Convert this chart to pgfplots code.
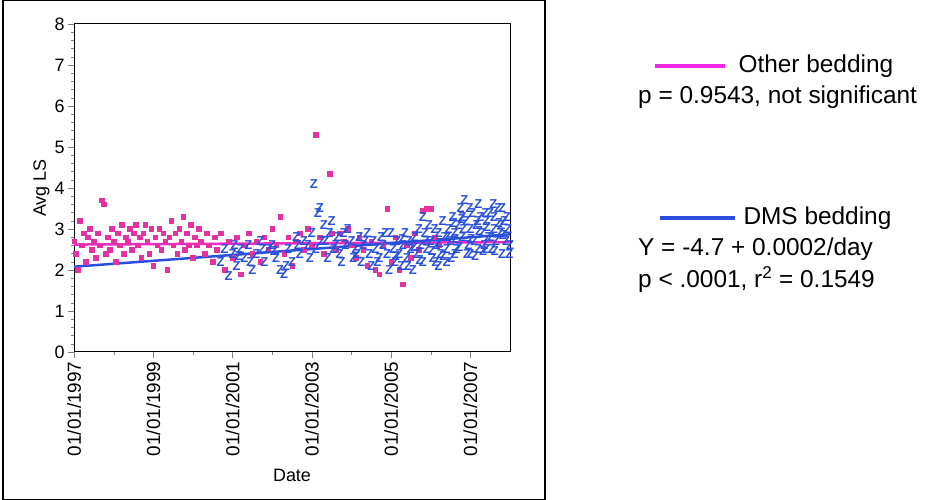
\documentclass[border=0pt]{standalone}
\usepackage{pgfplots}
\pgfplotsset{compat=1.18}
\usepackage{fontspec}
\setmainfont{Liberation Sans}
\setsansfont{Liberation Sans}
\definecolor{pk}{RGB}{230,50,160}
\definecolor{bl}{RGB}{40,80,220}
\definecolor{mag}{RGB}{240,40,230}
\begin{document}
\begin{tikzpicture}[x=1bp,y=1bp]
\useasboundingbox (0,0) rectangle (947,500);
\draw[line width=1.2bp] (3,0.6) rectangle (545,499.4);
\begin{axis}[at={(74bp,148bp)},anchor=south west,scale only axis,width=436bp,height=328bp,
 xmin=1997,xmax=2008,ymin=0,ymax=8,
 xtick={1997,1999,2001,2003,2005,2007},
 xticklabels={01/01/1997,01/01/1999,01/01/2001,01/01/2003,01/01/2005,01/01/2007},
 x tick label style={rotate=90,anchor=east,font=\fontsize{19}{19}\selectfont},
 ytick={0,...,8},minor x tick num=1,minor y tick num=4,
 y tick label style={font=\fontsize{18}{18}\selectfont},
 /pgf/number format/assume math mode=true,
 tick align=outside,xtick pos=left,ytick pos=left,
 major tick length=6bp,minor tick length=3bp,
 xlabel={Date},ylabel={Avg LS},
 xlabel style={font=\fontsize{18}{18}\selectfont,yshift=-6bp},
 ylabel style={font=\fontsize{18}{18}\selectfont,yshift=-2bp},
 axis line style={line width=1bp},clip=false]
\addplot[only marks,mark=square*,mark size=2.3bp,color=pk] coordinates {
(1997.0,2.7)(1997.05,2.4)(1997.1,2.0)(1997.15,3.2)(1997.2,2.6)(1997.25,2.9)(1997.3,2.2)(1997.35,2.8)(1997.4,3.0)(1997.45,2.5)(1997.5,2.7)(1997.55,2.3)(1997.6,2.9)(1997.65,2.6)(1997.7,3.7)(1997.75,3.6)(1997.8,2.4)(1997.85,2.8)(1997.9,2.5)(1997.95,3.0)(1998.0,2.7)(1998.05,2.2)(1998.1,2.9)(1998.15,2.6)(1998.2,3.1)(1998.25,2.4)(1998.3,2.8)(1998.35,2.7)(1998.4,3.0)(1998.45,2.5)(1998.5,2.9)(1998.55,3.1)(1998.6,2.6)(1998.65,2.8)(1998.7,2.3)(1998.75,2.9)(1998.8,3.1)(1998.85,2.7)(1998.9,2.4)(1998.95,3.0)(1999.0,2.1)(1999.05,2.8)(1999.1,2.6)(1999.15,3.0)(1999.2,2.5)(1999.25,2.9)(1999.3,2.7)(1999.35,2.0)(1999.4,2.8)(1999.45,3.2)(1999.5,2.6)(1999.55,2.9)(1999.6,2.4)(1999.65,3.0)(1999.7,2.7)(1999.75,3.3)(1999.8,2.5)(1999.85,2.9)(1999.9,2.6)(1999.95,3.1)(2000.0,2.3)(2000.05,2.8)(2000.1,2.6)(2000.15,3.0)(2000.2,2.7)(2000.3,2.4)(2000.35,2.9)(2000.4,2.6)(2000.5,2.2)(2000.55,2.8)(2000.6,2.5)(2000.7,2.9)(2000.8,2.0)(2000.9,2.7)(2001.0,2.3)(2001.1,2.8)(2001.2,1.9)(2001.3,2.6)(2001.4,2.9)(2001.5,2.4)(2001.6,2.7)(2001.7,2.2)(2001.8,2.8)(2001.9,2.5)(2002.0,3.0)(2002.1,2.6)(2002.2,3.3)(2002.3,2.4)(2002.4,2.8)(2002.5,2.1)(2002.6,2.7)(2002.7,2.9)(2002.8,2.5)(2002.9,3.0)(2003.0,2.6)(2003.1,5.3)(2003.2,2.8)(2003.3,2.4)(2003.45,4.35)(2003.5,2.9)(2003.6,2.5)(2003.7,2.9)(2003.8,2.7)(2003.9,3.0)(2004.0,2.6)(2004.1,2.3)(2004.2,2.8)(2004.3,2.5)(2004.4,2.1)(2004.5,2.7)(2004.6,2.0)(2004.7,1.9)(2004.8,2.6)(2004.9,3.5)(2005.0,2.2)(2005.1,2.8)(2005.2,2.0)(2005.3,1.65)(2005.4,2.6)(2005.5,2.3)(2005.6,2.9)(2005.7,2.5)(2005.8,3.45)(2005.9,3.5)(2006.0,3.5)(2006.1,2.8)(2006.2,2.6)
};
\addplot[only marks,mark=text,text mark={\textcolor{bl}{\fontsize{13}{13}\selectfont\bfseries Z}},color=bl] coordinates {
(2000.7,2.2)(2000.8,2.5)(2000.9,1.85)(2001.0,2.4)(2001.05,2.6)(2001.1,2.1)(2001.2,2.5)(2001.3,2.3)(2001.4,2.6)(2001.5,2.0)(2001.6,2.4)(2001.7,2.7)(2001.8,2.2)(2001.9,2.5)(2002.0,2.6)(2002.1,2.3)(2002.2,2.0)(2002.3,1.9)(2002.4,2.5)(2002.5,2.2)(2002.6,2.8)(2002.7,2.4)(2002.8,2.7)(2002.9,2.6)(2003.0,2.9)(2003.05,4.1)(2003.1,2.5)(2003.15,3.4)(2003.2,3.5)(2003.3,3.1)(2003.35,2.7)(2003.4,2.3)(2003.45,2.9)(2003.5,3.2)(2003.6,2.6)(2003.65,2.8)(2003.7,2.4)(2003.8,2.9)(2003.85,2.6)(2003.9,3.0)(2004.0,2.7)(2004.05,2.3)(2004.1,2.5)(2004.2,2.8)(2004.25,2.2)(2004.3,2.6)(2004.4,2.9)(2004.45,2.4)(2004.5,2.1)(2004.55,2.7)(2004.6,2.5)(2004.7,2.3)(2004.75,2.8)(2004.8,2.6)(2004.9,2.4)(2004.95,2.0)(2005.0,2.9)(2005.05,2.5)(2005.1,2.2)(2005.15,2.7)(2005.2,2.4)(2005.25,2.1)(2005.3,2.6)(2005.35,2.9)(2005.4,2.3)(2005.45,2.7)(2005.5,2.5)(2005.55,2.0)(2005.6,2.8)(2005.65,2.4)(2005.7,3.0)(2005.75,2.6)(2005.8,2.2)(2005.85,2.9)(2005.9,2.5)(2005.95,3.1)(2006.0,2.7)(2006.05,2.3)(2006.1,3.0)(2006.15,2.6)(2006.2,2.9)(2006.25,2.4)(2006.3,3.2)(2006.35,2.8)(2006.4,2.5)(2006.45,3.0)(2006.5,2.7)(2006.55,3.3)(2006.6,2.9)(2006.65,2.5)(2006.7,3.1)(2006.75,3.5)(2006.8,2.8)(2006.85,3.7)(2006.9,3.2)(2006.95,2.6)(2007.0,3.0)(2007.05,3.4)(2007.1,2.7)(2007.15,3.1)(2007.2,2.5)(2007.25,3.3)(2007.3,2.9)(2007.35,2.6)(2007.4,3.2)(2007.45,2.8)(2007.5,3.4)(2007.55,2.5)(2007.6,3.0)(2007.65,2.7)(2007.7,3.5)(2007.75,2.9)(2007.8,2.4)(2007.85,3.2)(2007.9,2.7)(2007.95,3.0)(2008.0,2.6)(2006.4,2.2)(2006.6,2.4)(2006.8,3.3)(2007.0,2.4)(2007.2,3.6)(2007.4,2.5)(2007.6,3.3)(2007.8,3.5)(2006.2,2.1)(2005.8,3.3)
(2001.15,2.35)(2001.45,2.2)(2001.75,2.5)(2002.05,2.45)(2002.35,2.1)(2002.65,2.6)(2002.95,2.3)(2003.25,2.7)(2003.55,2.5)(2003.75,2.2)(2004.15,2.4)(2004.35,2.7)(2004.65,2.2)(2004.85,2.9)(2005.12,2.35)(2005.28,2.75)(2005.42,2.1)(2005.58,2.55)(2005.72,2.25)(2005.88,2.7)(2006.02,2.45)(2006.12,2.2)(2006.22,2.65)(2006.32,2.35)(2006.42,2.8)(2006.52,2.3)(2006.62,2.75)(2006.72,2.55)(2006.82,3.0)(2006.92,2.4)(2007.02,2.75)(2007.12,2.35)(2007.22,2.95)(2007.32,2.45)(2007.42,3.05)(2007.52,2.8)(2007.62,2.45)(2007.72,3.15)(2007.82,2.85)(2007.92,3.3)(2007.98,2.4)(2006.58,3.15)(2006.78,3.25)(2006.98,3.5)(2007.18,3.2)(2007.38,3.4)(2007.58,3.6)(2007.78,3.1)
};
\addplot[mag!60!pk,line width=2.5bp] coordinates {(1997,2.62)(2008,2.68)};
\addplot[bl,line width=2.5bp] coordinates {(1997,2.08)(2008,2.87)};
\end{axis}
\begin{scope}[font=\fontsize{24.5}{24.5}\selectfont]
\draw[mag,line width=3.5bp] (655,434) -- (725,434);
\node[anchor=west] at (735,434) {Other bedding};
\node[anchor=west,inner sep=0pt] at (638,403) {p = 0.9543, not significant};
\draw[bl,line width=3.5bp] (660,282) -- (735,282);
\node[anchor=west] at (740,282) {DMS bedding};
\node[anchor=west,inner sep=0pt] at (638,251) {Y = -4.7 + 0.0002/day};
\node[anchor=west,inner sep=0pt] at (638,220) {p < .0001, r\textsuperscript{2} = 0.1549};
\end{scope}
\end{tikzpicture}
\end{document}
